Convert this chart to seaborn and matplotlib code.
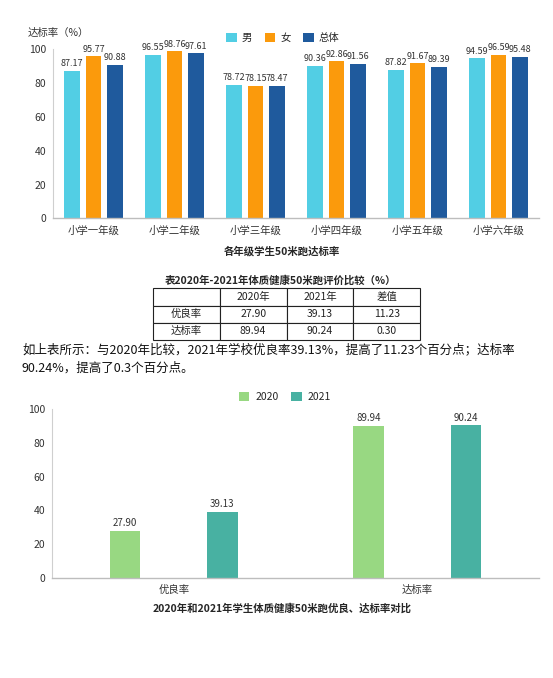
import pandas as pd
import matplotlib.pyplot as plt
import seaborn as sns

# chart 1: 50m pass rate per grade
grades = ['小学一年级', '小学二年级', '小学三年级', '小学四年级', '小学五年级', '小学六年级']
boys = [87.17, 96.55, 78.72, 90.36, 87.82, 94.59]
girls = [95.77, 98.76, 78.15, 92.86, 91.67, 96.59]
overall = [90.88, 97.61, 78.47, 91.56, 89.39, 95.48]
group_names = ['男', '女', '总体']
group_colors = ['#52CEE4', '#FB9A0C', '#1F5A9D']

# chart 2: 2020 vs 2021
metrics = ['优良率', '达标率']
rate_2020 = [27.90, 89.94]
rate_2021 = [39.13, 90.24]
year_names = ['2020', '2021']
year_colors = ['#98D882', '#48B1A2']

# table
table_header = ['', '2020年', '2021年', '差值']
diff = [11.23, 0.30]

sns.set_style('white')
plt.rcParams['font.family'] = ['Noto Sans CJK SC', 'DejaVu Sans']

W, H = 553, 678
fig = plt.figure(figsize=(W / 100, H / 100), dpi=100)


def px_axes(x0, y0, x1, y1):
    return fig.add_axes([x0 / W, 1 - y1 / H, (x1 - x0) / W, (y1 - y0) / H])


def fig_text(x, y, s, **kw):
    fig.text(x / W, 1 - y / H, s, **kw)


def style_axes(ax, label_size):
    ax.set_ylim(0, 100)
    ax.set_yticks([0, 20, 40, 60, 80, 100])
    ax.set_xlabel('')
    ax.set_ylabel('')
    for side in ['top', 'right']:
        ax.spines[side].set_visible(False)
    ax.spines['left'].set_color('#CFCFCF')
    ax.spines['left'].set_linewidth(0.8)
    ax.spines['bottom'].set_color('#BDBDBD')
    ax.spines['bottom'].set_linewidth(1)
    ax.tick_params(axis='y', length=2, width=0.6, color='#BDBDBD', pad=3,
                   labelsize=7.5, labelcolor='#333333')
    ax.tick_params(axis='x', length=0, pad=5, labelsize=7.5, labelcolor='#333333')
    for c in ax.containers:
        ax.bar_label(c, fmt='%.2f', padding=2, fontsize=label_size, color='#333333')
    if ax.get_legend() is not None:
        ax.get_legend().remove()


# top chart
df1 = pd.DataFrame({'grade': grades * 3,
                    'group': [g for g in group_names for _ in grades],
                    'value': boys + girls + overall})
ax1 = px_axes(53, 49.3, 539, 218.3)
sns.barplot(data=df1, x='grade', y='value', hue='group', palette=group_colors,
            width=0.79, gap=0.25, saturation=1, linewidth=0, ax=ax1)
style_axes(ax1, 6.5)
h1, l1 = ax1.get_legend_handles_labels()
fig.legend(h1, l1, loc='center', bbox_to_anchor=(283 / W, 1 - 38 / H), ncol=3,
           frameon=False, fontsize=7.5, handlelength=1, handleheight=1,
           handletextpad=0.5, columnspacing=1.2)
fig_text(28, 33, '达标率（%）', fontsize=7.5, color='#333333', va='center')
fig_text(282, 251, '各年级学生50米跑达标率', fontsize=7.5, fontweight='bold',
         ha='center', va='center')

# table
fig_text(280, 280, '表2020年-2021年体质健康50米跑评价比较（%）', fontsize=7.5,
         fontweight='bold', ha='center', va='center')
ax_t = px_axes(153, 288.3, 420, 340)
ax_t.axis('off')
cells = [table_header]
for name, a, b, d in zip(metrics, rate_2020, rate_2021, diff):
    cells.append([name, f'{a:.2f}', f'{b:.2f}', f'{d:.2f}'])
tbl = ax_t.table(cellText=cells, cellLoc='center', bbox=[0, 0, 1, 1])
tbl.auto_set_font_size(False)
tbl.set_fontsize(7.5)
for cell in tbl.get_celld().values():
    cell.set_edgecolor('#222222')
    cell.set_linewidth(0.8)
    cell.get_text().set_color('#222222')

fig_text(22, 350, '如上表所示：与2020年比较，2021年学校优良率39.13%，提高了11.23个百分点；达标率',
         fontsize=9, color='#111111', va='center')
fig_text(22, 368, '90.24%，提高了0.3个百分点。', fontsize=9, color='#111111', va='center')

# bottom chart
df2 = pd.DataFrame({'metric': metrics * 2,
                    'year': [y for y in year_names for _ in metrics],
                    'value': rate_2020 + rate_2021})
ax2 = px_axes(52, 409, 539, 578)
sns.barplot(data=df2, x='metric', y='value', hue='year', palette=year_colors,
            width=0.8, gap=0.685, saturation=1, linewidth=0, ax=ax2)
style_axes(ax2, 7)
h2, l2 = ax2.get_legend_handles_labels()
fig.legend(h2, l2, loc='center', bbox_to_anchor=(285 / W, 1 - 397 / H), ncol=2,
           frameon=False, fontsize=7.5, handlelength=1, handleheight=1,
           handletextpad=0.6, columnspacing=1.2)
fig_text(282, 608, '2020年和2021年学生体质健康50米跑优良、达标率对比', fontsize=7.5,
         fontweight='bold', ha='center', va='center')

fig.savefig('out.png', dpi=100)
